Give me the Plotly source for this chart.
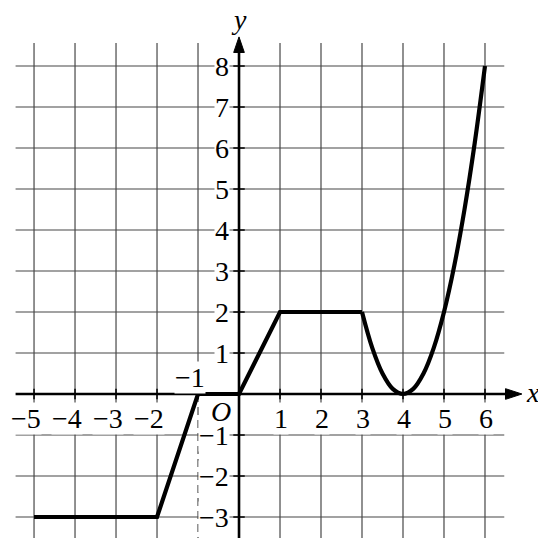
import plotly.graph_objects as go

# Straight-line pieces of the graph
seg_x = [-5, -2, -1, 0, 1, 3]
seg_y = [-3, -3, 0, 0, 2, 2]

# Curved piece from x = 3 to x = 6
arc_x = [3, 3.25, 3.5, 3.75, 4, 4.25, 4.5, 4.75, 5, 5.25, 5.5, 5.75, 6]
arc_y = [2, 1.125, 0.5, 0.125, 0, 0.125, 0.5, 1.125, 2, 3.125, 4.5, 6.125, 8]

# Tick values and labels
x_ticks = [-5, -4, -3, -2, -1, 1, 2, 3, 4, 5, 6]
x_labels = ["−5", "−4", "−3", "−2", "−1", "1", "2", "3", "4", "5", "6"]
y_ticks = [-3, -2, -1, 1, 2, 3, 4, 5, 6, 7, 8]
y_labels = ["−3", "−2", "−1", "1", "2", "3", "4", "5", "6", "7", "8"]

# Extent of the square grid
GX0, GX1 = -5.45, 6.47
GY0, GY1 = -3.7, 8.56
X_RANGE = [-5.83, 7.293]
Y_RANGE = [-3.512, 9.61]

FONT = "Liberation Serif"
GRID = "#474747"

fig = go.Figure()

# grid lines
gx, gy = [], []
for v in range(-5, 7):
    if v == 0:
        continue
    lo = 0 if v == -1 else GY0
    gx += [v, v, None]
    gy += [lo, GY1, None]
for v in range(-3, 9):
    if v == 0:
        continue
    gx += [GX0, GX1, None]
    gy += [v, v, None]
fig.add_trace(go.Scatter(x=gx, y=gy, mode="lines",
                         line=dict(color=GRID, width=1.2), hoverinfo="skip"))

# dashed guide at x = -1 below the x-axis
fig.add_trace(go.Scatter(x=[-1, -1], y=[0, GY0], mode="lines",
                         line=dict(color=GRID, width=1.2, dash="8px,5px"),
                         hoverinfo="skip"))

# axes
fig.add_trace(go.Scatter(x=[GX0, 6.8], y=[0, 0], mode="lines",
                         line=dict(color="black", width=2.6), hoverinfo="skip"))
fig.add_trace(go.Scatter(x=[0, 0], y=[GY0, 8.6], mode="lines",
                         line=dict(color="black", width=2.6), hoverinfo="skip"))

# small tick marks on the axes
tx, ty = [], []
for v in x_ticks:
    tx += [v, v, None]
    ty += [-0.13, 0.13, None]
for v in y_ticks:
    tx += [-0.14, 0.14, None]
    ty += [v, v, None]
fig.add_trace(go.Scatter(x=tx, y=ty, mode="lines",
                         line=dict(color="black", width=1.5), hoverinfo="skip"))

# the graph itself
fig.add_trace(go.Scatter(x=seg_x, y=seg_y, mode="lines",
                         line=dict(color="black", width=4.2), hoverinfo="skip"))
fig.add_trace(go.Scatter(x=arc_x, y=arc_y, mode="lines",
                         line=dict(color="black", width=4.2, shape="spline"),
                         hoverinfo="skip"))

# arrow heads
fig.add_shape(type="path", path="M 6.9 0 L 6.5 0.13 L 6.5 -0.13 Z",
              fillcolor="black", line=dict(color="black", width=1), layer="above")
fig.add_shape(type="path", path="M 0 8.71 L -0.13 8.33 L 0.13 8.33 Z",
              fillcolor="black", line=dict(color="black", width=1), layer="above")

font = dict(family=FONT, size=28, color="black")
ann = []
for v, t in zip(x_ticks, x_labels):
    if v == -1:
        ann.append(dict(x=v, y=0, text=t, showarrow=False, font=font,
                        xanchor="right", xshift=8, yanchor="middle", yshift=17,
                        bgcolor="white", borderpad=0))
    elif v < 0:
        ann.append(dict(x=v, y=0, text=t, showarrow=False, font=font,
                        xanchor="right", xshift=8, yanchor="middle", yshift=-24,
                        bgcolor="white", borderpad=0))
    else:
        ann.append(dict(x=v, y=0, text=t, showarrow=False, font=font,
                        xanchor="center", xshift=1, yanchor="middle", yshift=-24,
                        bgcolor="white", borderpad=0))
for v, t in zip(y_ticks, y_labels):
    ann.append(dict(x=0, y=v, text=t, showarrow=False, font=font,
                    xanchor="right", xshift=-9, yanchor="middle", yshift=0,
                    bgcolor="white", borderpad=0))
ann.append(dict(x=0, y=0, text="<i>O</i>", showarrow=False, font=font,
                xanchor="center", xshift=-18, yanchor="middle", yshift=-17))
ann.append(dict(x=0, y=8.71, text="<i>y</i>", showarrow=False, font=font,
                xanchor="center", xshift=0, yanchor="bottom", yshift=0))
ann.append(dict(x=6.9, y=0, text="<i>x</i>", showarrow=False, font=font,
                xanchor="left", xshift=2, yanchor="middle", yshift=2))

fig.update_layout(
    width=538, height=538,
    margin=dict(l=0, r=0, t=0, b=0),
    paper_bgcolor="white", plot_bgcolor="white",
    showlegend=False,
    font=dict(family=FONT),
    xaxis=dict(range=X_RANGE, visible=False, fixedrange=True),
    yaxis=dict(range=Y_RANGE, visible=False, fixedrange=True),
    annotations=ann,
)

fig.write_html("out.html")
